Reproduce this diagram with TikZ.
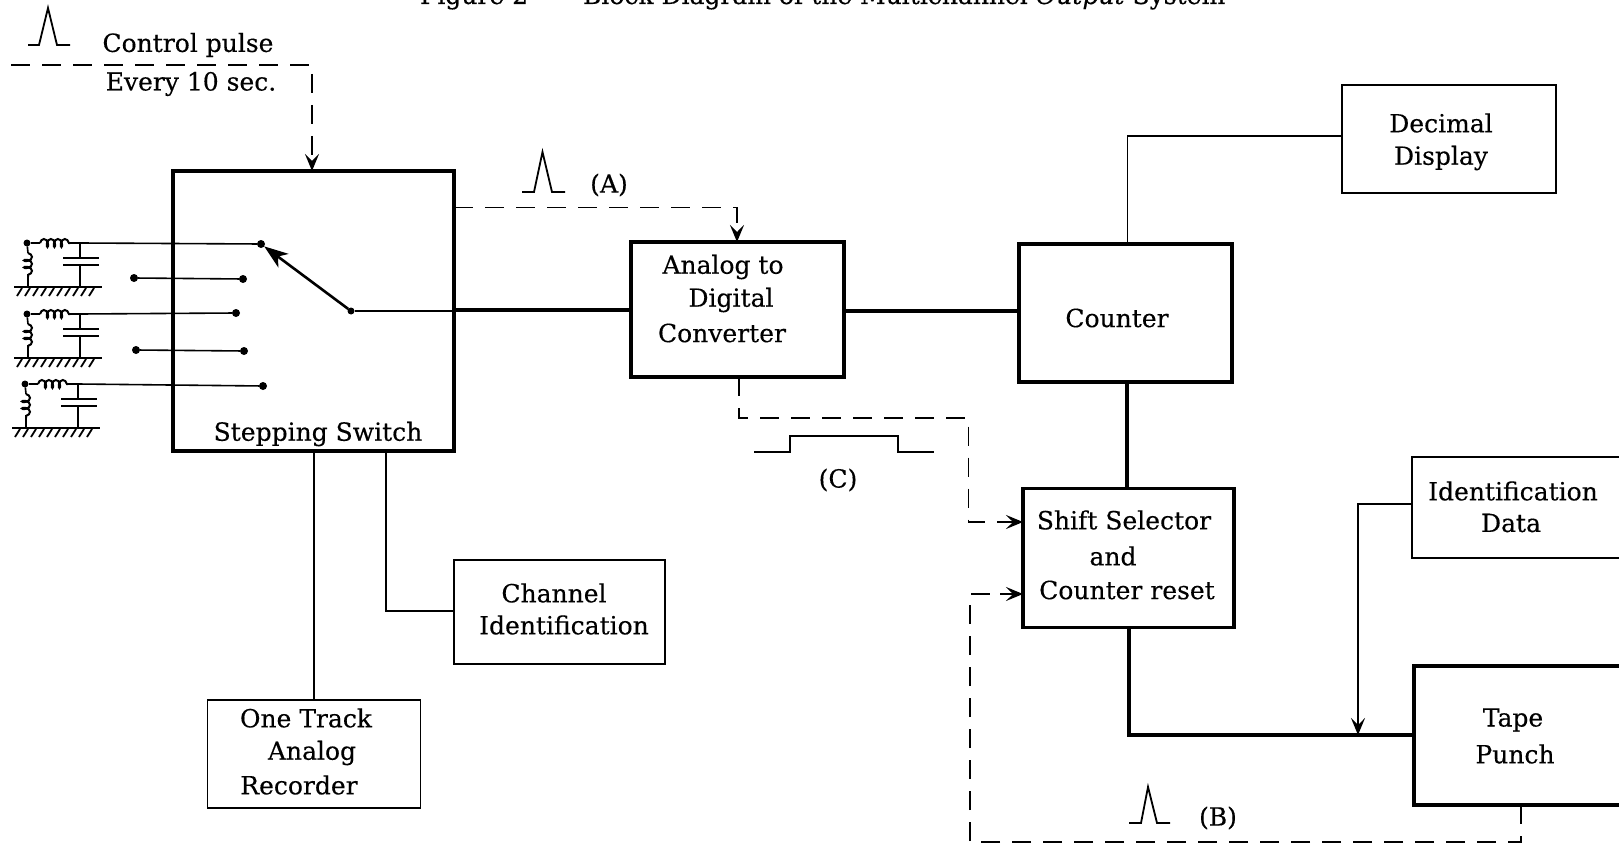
\documentclass[tikz,border=0pt]{standalone}
\usepackage{fontspec}
\setmainfont[FakeBold=0.3]{DejaVu Serif}
\usetikzlibrary{arrows.meta,decorations.pathmorphing}
\newcommand{\lbl}{\fontsize{25}{30}\selectfont}
\tikzset{
  x=1pt,y=-1pt,
  every node/.style={inner sep=0pt,outer sep=0pt,font=\lbl},
  heavybox/.style={draw,line width=3.8pt,minimum width=#1},
  lightbox/.style={draw,line width=1.6pt,minimum width=#1},
  heavy/.style={line width=3.8pt},
  light/.style={line width=1.6pt},
  dashline/.style={line width=1.9pt,dash pattern=on 19pt off 12pt},
  tip/.style={-{Stealth[length=17pt,width=14pt,inset=7pt]}},
  pulse/.style={line width=1.8pt,line join=miter},
  contact/.style={circle,fill,minimum size=8pt},
  coilres/.style={line width=2pt,decorate,decoration={coil,aspect=0.55,segment length=7pt,amplitude=4pt}},
  rcnet/.pic={
    \coordinate (-in) at (0,0);
    \node[contact,minimum size=7pt] (-dot) at (0,0) {};
    \coordinate (-r1) at (13,0);
    \coordinate (-r2) at (43,0);
    \coordinate (-top) at (53,0);
    \coordinate (-g1) at (1,44);
    \coordinate (-g2) at (53,44);
    \draw[light] (-dot) -- (-r1);
    \draw[coilres] (-r1) -- (-r2);
    \draw[light] (-r2) -- (-top) -- (53,15);
    \draw[line width=2pt] (36,15) -- (72,15) (36,22) -- (72,22);
    \draw[light] (53,22) -- (-g2);
    \draw[light] (-dot) -- (1,10);
    \draw[coilres] (1,10) -- (1,34);
    \draw[light] (1,34) -- (-g1);
    \draw[line width=2pt] (-13,44) -- (75,44);
    \foreach \h in {-8,0,...,64} {\draw[line width=1.8pt] (\h+3,45) -- (\h-2,53);}
  }
}
\begin{document}
\begin{tikzpicture}
\useasboundingbox (0,0) rectangle (1619,845);
\fill[white] (0,0) rectangle (1619,845);

% title, cut by the top edge
\node[anchor=base west] (figno) at (420,4) {Figure 2};
\node[anchor=base west] (figtitle) at (583,4) {Block Diagram of the Multichannel \textit{Output} System};

% blocks
\node[heavybox=281pt,minimum height=280pt] (sw) at (313.5,311) {};
\node[heavybox=213pt,minimum height=135pt] (adc) at (737.5,309.5) {};
\node[heavybox=213pt,minimum height=138pt] (cnt) at (1125.5,313) {};
\node[lightbox=214pt,minimum height=108pt] (dec) at (1449,139) {};
\node[heavybox=211pt,minimum height=139pt] (shift) at (1128.5,558) {};
\node[lightbox=230pt,minimum height=101pt] (idd) at (1527,507.5) {};
\node[heavybox=230pt,minimum height=139pt] (tape) at (1529,735.5) {};
\node[lightbox=211pt,minimum height=104pt] (chan) at (559.5,612) {};
\node[lightbox=213pt,minimum height=108pt] (rec) at (314,754) {};

% block labels
\node (l1) at (318,434) {Stepping Switch};
\node (l2) at (723,267) {Analog to};
\node (l3) at (731,300) {Digital};
\node (l4) at (722,333) {Converter};
\node (l5) at (1117,318) {Counter};
\node (l6) at (1441,123) {Decimal};
\node (l7) at (1441,158) {Display};
\node (l8) at (1124,520) {Shift Selector};
\node (l9) at (1113,556) {and};
\node (l10) at (1127,590) {Counter reset};
\node (l11) at (1513,491) {Identification};
\node (l12) at (1511,523) {Data};
\node (l13) at (1513,720) {Tape};
\node (l14) at (1515,754) {Punch};
\node (l15) at (554,593) {Channel};
\node (l16) at (564,625) {Identification};
\node (l17) at (306,718) {One Track};
\node (l18) at (312,753) {Analog};
\node (l19) at (299,785) {Recorder};
\node (l20) at (188,45) {Control pulse};
\node (l21) at (191,84) {Every 10 sec.};
\node (la) at (609,185) {(A)};
\node (lb) at (1218,818) {(B)};
\node (lc) at (838,480) {(C)};

% pulses
\draw[pulse] (28,45) -- (39,45) -- (48,8) -- (57,45) -- (70,45);
\draw[pulse] (522,192) -- (534,192) -- (542.5,152) -- (552,192) -- (565,192);
\draw[pulse] (1129,823) -- (1141,823) -- (1148,787) -- (1157,823) -- (1170,823);
\draw[pulse] (754,452) -- (790,452) -- (790,436) -- (898,436) -- (898,452) -- (934,452);

% solid connectors
\draw[heavy] (sw.east |- 0,310) -- (adc.west |- 0,310);
\draw[heavy] (adc.east |- 0,311) -- (cnt.west |- 0,311);
\draw[heavy] (cnt.south -| 1127,0) -- (shift.north -| 1127,0);
\draw[light] (cnt.north -| 1127.5,0) |- (dec.west |- 0,136);
\draw[light] (sw.south -| 386,0) |- (chan.west |- 0,611);
\draw[light] (sw.south -| 314,0) -- (rec.north);
\coordinate (merge) at (1358,735);
\draw[heavy,line join=miter] (shift.south -| 1129,0) |- (tape.west |- merge);
\draw[light,tip] (idd.west |- 0,504) -| (merge);

% dashed connectors
\draw[dashline,tip] (11,65) -| (sw.north -| 312,0);
\draw[dashline,tip] (sw.east |- 0,207.5) -| (adc.north -| 737,0);
\draw[dashline] (adc.south -| 739,0) |- (968.5,418) |- (1000,522);
\draw[light,tip] (1000,522) -- (shift.west |- 0,522);
\draw[dashline] (tape.south -| 1521,0) |- (970,842) |- (1000,594);
\draw[light,tip] (1000,594) -- (shift.west |- 0,594);

% switch contacts
\node[contact] (c1) at (261,244) {};
\node[contact] (c2a) at (134,278) {};
\node[contact] (c2) at (243,279) {};
\node[contact] (c3) at (236,313) {};
\node[contact] (c4a) at (136,350) {};
\node[contact] (c4) at (244,351) {};
\node[contact] (c5) at (263,386) {};
\node[contact,minimum size=7pt] (piv) at (351,311) {};
\draw[light] (c2a) -- (c2);
\draw[light] (c4a) -- (c4);
\draw[light] (piv) -- (sw.east |- piv);
\draw[line width=2.6pt,-{Stealth[length=24pt,width=17pt,inset=7pt]}] (piv) -- (c1);

% input networks
\pic (n1) at (27,243) {rcnet};
\pic (n2) at (27,314) {rcnet};
\pic (n3) at (25,384) {rcnet};
\draw[light] (n1-top) -- (c1);
\draw[light] (n2-top) -- (c3);
\draw[light] (n3-top) -- (c5);
\end{tikzpicture}
\end{document}
